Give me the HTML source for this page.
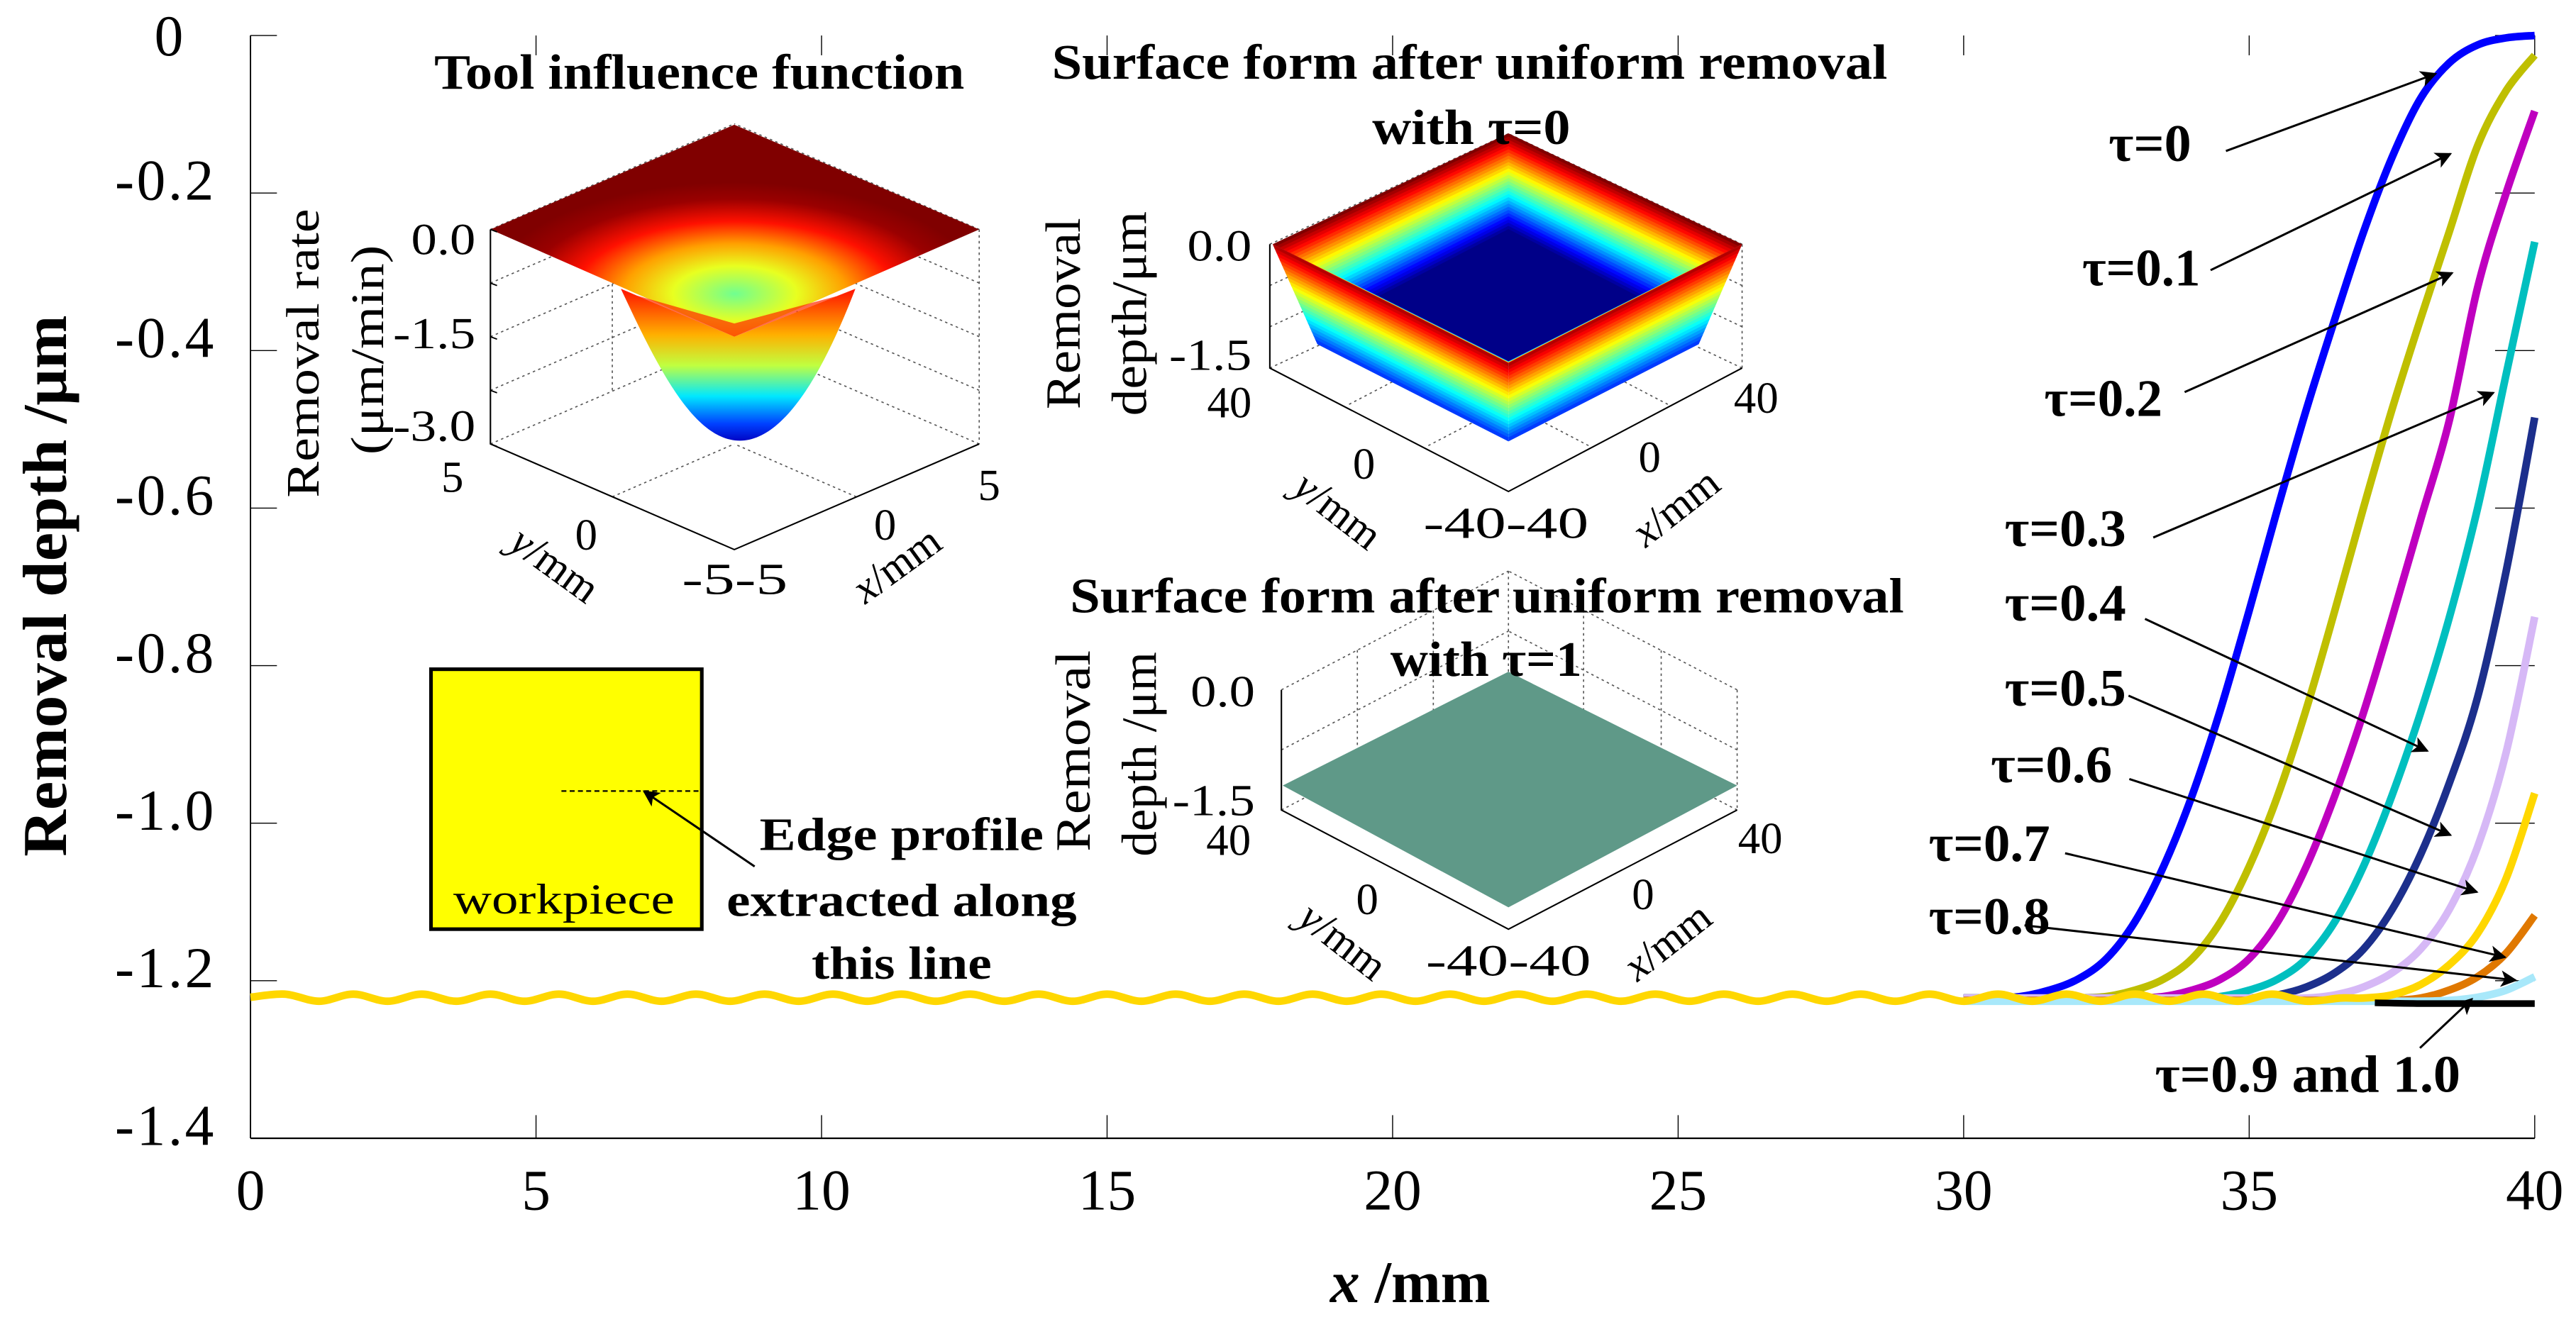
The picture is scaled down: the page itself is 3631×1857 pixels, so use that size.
<!DOCTYPE html>
<html><head><meta charset="utf-8"><title>Removal depth edge profiles</title>
<style>
html,body{margin:0;padding:0;background:#fff;}
svg{display:block;}
text{font-family:"Liberation Serif",serif;}
</style></head>
<body>
<svg id="chart" xmlns="http://www.w3.org/2000/svg" width="3631" height="1857" viewBox="0 0 1560 798" preserveAspectRatio="none">
<defs>
<marker id="ah2" viewBox="0 0 10 10" refX="9" refY="5" markerWidth="14" markerHeight="10" orient="auto" markerUnits="userSpaceOnUse">
<path d="M0,0 L10,5 L0,10 L2.5,5 Z" fill="#000"/></marker>
<radialGradient id="tifTop" gradientUnits="userSpaceOnUse" cx="445" cy="178" r="150" gradientTransform="translate(445 178) scale(1 0.45) translate(-445 -178)">
<stop offset="0" stop-color="#70ff90"/><stop offset="0.25" stop-color="#e8ff20"/><stop offset="0.45" stop-color="#ffa000"/><stop offset="0.65" stop-color="#ff1000"/><stop offset="0.85" stop-color="#9a0000"/><stop offset="1" stop-color="#800000"/></radialGradient>
<linearGradient id="tifBowl" gradientUnits="userSpaceOnUse" x1="0" y1="175" x2="0" y2="268">
<stop offset="0" stop-color="#ff1000"/><stop offset="0.3" stop-color="#ffb000"/><stop offset="0.5" stop-color="#c0ff40"/><stop offset="0.7" stop-color="#00e8ff"/><stop offset="0.88" stop-color="#0040ff"/><stop offset="1" stop-color="#0000c0"/></linearGradient>
</defs>
<g id="inset-layer"></g>
<g id="main-layer"></g>
</svg>
<script>
// ---- data ----
const xTicks = [0, 5, 10, 15, 20, 25, 30, 35, 40];
const xTickLabels = ['0', '5', '10', '15', '20', '25', '30', '35', '40'];
const yTicks = [0, -0.2, -0.4, -0.6, -0.8, -1.0, -1.2, -1.4];
const yTickLabels = ['0', '-0.2', '-0.4', '-0.6', '-0.8', '-1.0', '-1.2', '-1.4'];
const gridX = [30,30.5,31,31.5,32,32.5,33,33.5,34,34.5,35,35.5,36,36.5,37,37.5,38,38.5,39,39.5,40];
const tau0Y  = [-1.222,-1.222,-1.220,-1.212,-1.198,-1.172,-1.125,-1.055,-0.965,-0.855,-0.73,-0.60,-0.475,-0.36,-0.25,-0.155,-0.08,-0.035,-0.012,-0.003,0];
const tau01Y = [-1.222,-1.222,-1.222,-1.222,-1.222,-1.220,-1.212,-1.198,-1.172,-1.125,-1.055,-0.965,-0.855,-0.73,-0.60,-0.475,-0.36,-0.25,-0.14,-0.07,-0.025];
const tau02Y = [-1.222,-1.222,-1.222,-1.222,-1.222,-1.222,-1.222,-1.220,-1.212,-1.198,-1.172,-1.125,-1.055,-0.965,-0.86,-0.74,-0.615,-0.49,-0.32,-0.2,-0.096];
const tau03Y = [-1.222,-1.222,-1.222,-1.222,-1.222,-1.222,-1.222,-1.222,-1.222,-1.220,-1.212,-1.198,-1.172,-1.125,-1.055,-0.965,-0.86,-0.74,-0.60,-0.43,-0.262];
const tau04Y = [-1.222,-1.222,-1.222,-1.222,-1.222,-1.222,-1.222,-1.222,-1.222,-1.222,-1.222,-1.218,-1.208,-1.19,-1.16,-1.11,-1.04,-0.95,-0.84,-0.68,-0.485];
const tau05Y = [-1.222,-1.222,-1.222,-1.222,-1.222,-1.222,-1.222,-1.222,-1.222,-1.222,-1.222,-1.222,-1.222,-1.218,-1.208,-1.19,-1.16,-1.11,-1.03,-0.91,-0.738];
const tau07Y = [-1.225,-1.225,-1.225,-1.225,-1.225,-1.225,-1.225,-1.225,-1.225,-1.225,-1.225,-1.225,-1.225,-1.225,-1.225,-1.225,-1.222,-1.212,-1.195,-1.165,-1.117];
const tau08Y = [-1.226,-1.226,-1.226,-1.226,-1.226,-1.226,-1.226,-1.226,-1.226,-1.226,-1.226,-1.226,-1.226,-1.226,-1.226,-1.226,-1.226,-1.225,-1.221,-1.212,-1.195];
const tau06X = [0,0.6,1.2,1.8,2.4,3,3.6,4.2,4.8,5.4,6,6.6,7.2,7.8,8.4,9,9.6,10.2,10.8,11.4,12,12.6,13.2,13.8,14.4,15,15.6,16.2,16.8,17.4,18,18.6,19.2,19.8,20.4,21,21.6,22.2,22.8,23.4,24,24.6,25.2,25.8,26.4,27,27.6,28.2,28.8,29.4,30,30.6,31.2,31.8,32.4,33,33.6,34.2,34.8,35.4,36,36.6,37,37.5,38,38.5,39,39.5,40];
const tau06Y = [-1.221,-1.217,-1.226,-1.217,-1.226,-1.217,-1.226,-1.217,-1.226,-1.217,-1.226,-1.217,-1.226,-1.217,-1.226,-1.217,-1.226,-1.217,-1.226,-1.217,-1.226,-1.217,-1.226,-1.217,-1.226,-1.217,-1.226,-1.217,-1.226,-1.217,-1.226,-1.217,-1.226,-1.217,-1.226,-1.217,-1.226,-1.217,-1.226,-1.217,-1.226,-1.217,-1.226,-1.217,-1.226,-1.217,-1.226,-1.217,-1.226,-1.217,-1.226,-1.217,-1.226,-1.217,-1.226,-1.217,-1.226,-1.217,-1.226,-1.217,-1.226,-1.222,-1.222,-1.218,-1.205,-1.18,-1.14,-1.07,-0.962];
const tau09X = [37.2,38,39,40];
const tau09Y = [-1.228,-1.229,-1.229,-1.229];
const seriesNames = ['tau-0','tau-0.1','tau-0.2','tau-0.3','tau-0.4','tau-0.5','tau-0.6','tau-0.7','tau-0.8','tau-0.9-and-1.0'];
const seriesColors = ['#0000ff','#bfbf00','#bf00bf','#00bfbf','#1c2f8c','#d6b8f6','#ffd700','#e07800','#a8e8fa','#000000'];
const labelTexts = ['τ=0','τ=0.1','τ=0.2','τ=0.3','τ=0.4','τ=0.5','τ=0.6','τ=0.7','τ=0.8','τ=0.9 and 1.0'];

// ---- axes ----
const X0 = 151.7, X1 = 1535, Y0 = 21.5, Y1 = 689.7;
function sx(v){ return X0 + (v - 0) * (X1 - X0) / 40; }
function sy(v){ return Y0 + (0 - v) * (Y1 - Y0) / 1.4; }

const NS = 'http://www.w3.org/2000/svg';
const main = document.getElementById('main-layer');
const ins = document.getElementById('inset-layer');
function el(tag, attrs, parent){
  const e = document.createElementNS(NS, tag);
  for (const k in attrs) e.setAttribute(k, attrs[k]);
  (parent || main).appendChild(e);
  return e;
}
function txt(s, attrs, parent){ const t = el('text', attrs, parent); t.textContent = s; return t; }
function smoothPath(pts){
  let d = 'M' + pts[0][0].toFixed(2) + ',' + pts[0][1].toFixed(2);
  for (let i = 0; i < pts.length - 1; i++){
    const p0 = pts[Math.max(i-1,0)], p1 = pts[i], p2 = pts[i+1], p3 = pts[Math.min(i+2, pts.length-1)];
    const c1 = [p1[0] + (p2[0]-p0[0])/6, p1[1] + (p2[1]-p0[1])/6];
    const c2 = [p2[0] - (p3[0]-p1[0])/6, p2[1] - (p3[1]-p1[1])/6];
    d += ' C' + c1[0].toFixed(2)+','+c1[1].toFixed(2)+' '+c2[0].toFixed(2)+','+c2[1].toFixed(2)+' '+p2[0].toFixed(2)+','+p2[1].toFixed(2);
  }
  return d;
}
function jet(v){
  const c = x => Math.round(255 * Math.max(0, Math.min(1, x)));
  return 'rgb(' + c(1.5 - Math.abs(4*v-3)) + ',' + c(1.5 - Math.abs(4*v-2)) + ',' + c(1.5 - Math.abs(4*v-1)) + ')';
}
function lerp(a, b, t){ return [a[0] + (b[0]-a[0])*t, a[1] + (b[1]-a[1])*t]; }
function poly(pts){ return pts.map(p => p[0].toFixed(2)+','+p[1].toFixed(2)).join(' '); }

// spines
let s;
s = el('line', {x1:X0, y1:Y0, x2:X0, y2:Y1, stroke:'#000', 'stroke-width':0.8});


s = el('line', {x1:X0, y1:Y1, x2:X1, y2:Y1, stroke:'#000', 'stroke-width':1});



xTicks.forEach((v, i) => {
  const t1 = el('line', {x1:sx(v), y1:Y1, x2:sx(v), y2:Y1-14, stroke:'#000', 'stroke-width':0.6});
  
  
  const t2 = el('line', {x1:sx(v), y1:Y0, x2:sx(v), y2:Y0+12, stroke:'#000', 'stroke-width':0.6});
  
  
  const lb = txt(xTickLabels[i], {x:sx(v), y:733, 'text-anchor':'middle', 'font-size':35});
  
  
});
yTicks.forEach((v, i) => {
  const t1 = el('line', {x1:X0, y1:sy(v), x2:X0+16, y2:sy(v), stroke:'#000', 'stroke-width':0.6});
  
  
  const t2 = el('line', {x1:X1, y1:sy(v), x2:X1-24, y2:sy(v), stroke:'#000', 'stroke-width':0.6});
  
  
  const isZero = yTickLabels[i] === '0';
  const lb = txt(yTickLabels[i], {x:isZero ? 103 : 131, y:sy(v) + (isZero ? 12 : 4), 'text-anchor':isZero ? 'middle' : 'end', 'font-size':35, 'letter-spacing':1.5});
  
  
});
s = txt('Removal depth /μm', {transform:'translate(40,355) rotate(-90)', 'text-anchor':'middle', 'font-size':38, 'font-weight':'bold', textLength:328, lengthAdjust:'spacingAndGlyphs'});


s = el('text', {x:854, y:789, 'text-anchor':'middle', 'font-size':36, 'font-weight':'bold'});
s.innerHTML = '<tspan font-style="italic">x</tspan> /mm';



// ---- inset 1: tool influence function ----
const g1 = el('g', {}, ins);


const A1 = {L:[297,139], R:[593,139], T:[444.7,75.6], F:[444.7,204], fl:[297,269], ff:[444.7,333], fr:[593,269]};
for (let k = 0; k < 5; k++){
  const y = 139 + k * 32.5;
  el('line', {x1:297, y1:y, x2:444.7, y2:y-64, stroke:'#555', 'stroke-width':0.7, 'stroke-dasharray':'1.5,2'}, g1);
  el('line', {x1:593, y1:y, x2:444.7, y2:y-64, stroke:'#555', 'stroke-width':0.7, 'stroke-dasharray':'1.5,2'}, g1);
}
[[370.8,301],[518.6,301]].forEach(p => {
  el('line', {x1:p[0], y1:p[1], x2:p[0]+ (p[0] < 444 ? 73.9 : -73.9), y2:p[1]-32, stroke:'#555', 'stroke-width':0.7, 'stroke-dasharray':'1.5,2'}, g1);
});
el('line', {x1:593, y1:139, x2:593, y2:269, stroke:'#555', 'stroke-width':0.7, 'stroke-dasharray':'1.5,2'}, g1);
el('line', {x1:370.8, y1:172, x2:370.8, y2:237, stroke:'#555', 'stroke-width':0.7, 'stroke-dasharray':'1.5,2'}, g1);
el('polygon', {points:poly([A1.T, A1.R, A1.F, A1.L]), fill:'url(#tifTop)'}, g1);
el('path', {d:'M376,175 C398,222 420,267 448,267 C476,267 500,222 518,175 L444.7,204 Z', fill:'url(#tifBowl)'}, g1);
el('polygon', {points:poly([[376,175],[444.7,204],[518,175],[512,178],[444.7,196],[382,178]]), fill:'#ff2a00', opacity:0.7}, g1);
el('polyline', {points:poly([A1.L, A1.fl, A1.ff, A1.fr]), fill:'none', stroke:'#000', 'stroke-width':0.9}, g1);
[[297,139],[297,171.5],[297,204],[297,236.5],[297,269]].forEach(p => el('line', {x1:p[0], y1:p[1], x2:p[0]+4, y2:p[1]+1.5, stroke:'#000', 'stroke-width':0.8}, g1));
s = txt('Tool influence function', {x:263, y:53.7, 'font-size':30, 'font-weight':'bold', textLength:321, lengthAdjust:'spacingAndGlyphs'}, g1);


[['0.0',154],['-1.5',211],['-3.0',267]].forEach(a => txt(a[0], {x:288, y:a[1], 'text-anchor':'end', 'font-size':27, textLength:a[0].length > 3 ? 50 : 39, lengthAdjust:'spacingAndGlyphs'}, g1));
txt('5', {x:274, y:298, 'text-anchor':'middle', 'font-size':27}, g1);
txt('0', {x:355, y:333, 'text-anchor':'middle', 'font-size':27}, g1);
txt('-5-5', {x:445, y:360, 'text-anchor':'middle', 'font-size':27, textLength:64, lengthAdjust:'spacingAndGlyphs'}, g1);
txt('5', {x:599, y:303, 'text-anchor':'middle', 'font-size':27}, g1);
txt('0', {x:536, y:327, 'text-anchor':'middle', 'font-size':27}, g1);
s = el('text', {transform:'translate(331,349) rotate(36)', 'text-anchor':'middle', 'font-size':26}, g1);
s.innerHTML = '<tspan font-style="italic">y</tspan>/mm';
s = el('text', {transform:'translate(548,349) rotate(-36)', 'text-anchor':'middle', 'font-size':26}, g1);
s.innerHTML = '<tspan font-style="italic">x</tspan>/mm';
txt('Removal rate', {transform:'translate(193,214) rotate(-90)', 'text-anchor':'middle', 'font-size':28, textLength:175, lengthAdjust:'spacingAndGlyphs'}, g1);
txt('(μm/min)', {transform:'translate(232,212) rotate(-90)', 'text-anchor':'middle', 'font-size':28, textLength:127, lengthAdjust:'spacingAndGlyphs'}, g1);

// ---- inset 2: tau = 0 surface ----
const g2 = el('g', {}, ins);


const O2 = {T:[913.5,80.8], L:[770.7,148], R:[1055,148], B:[913.5,220]};
const I2 = {T:[913.5,138.8], L:[835,179.4], R:[991.6,179.4], B:[913.5,218.7]};
for (let k = 0; k < 4; k++){
  const y = 148 + k * 25;
  el('line', {x1:769, y1:y, x2:913.5, y2:y-67, stroke:'#555', 'stroke-width':0.7, 'stroke-dasharray':'1.5,2'}, g2);
  el('line', {x1:1055, y1:y, x2:913.5, y2:y-67, stroke:'#555', 'stroke-width':0.7, 'stroke-dasharray':'1.5,2'}, g2);
}
el('line', {x1:1055, y1:148, x2:1055, y2:223, stroke:'#555', 'stroke-width':0.7, 'stroke-dasharray':'1.5,2'}, g2);
[[817,245],[865,270],[1010,245],[962,270]].forEach(p => el('line', {x1:p[0], y1:p[1], x2:p[0] + (p[0] < 913 ? 96 : -96), y2:p[1]-50, stroke:'#555', 'stroke-width':0.7, 'stroke-dasharray':'1.5,2'}, g2));
const NR = 30;
for (let k = 0; k < NR; k++){
  const t = k / NR;
  el('polygon', {points:poly([lerp(O2.T,I2.T,t), lerp(O2.R,I2.R,t), lerp(O2.B,I2.B,t), lerp(O2.L,I2.L,t)]), fill:jet(1 - t)}, g2);
}
el('polygon', {points:poly([I2.T, I2.R, I2.B, I2.L]), fill:'#000088'}, g2);
const walls = [[[770.7,148],[913.5,220],[913.5,267],[797.5,208]], [[1055,148],[913.5,220],[913.5,267],[1029,208]]];
walls.forEach(w => {
  const NW = 24;
  for (let k = 0; k < NW; k++){
    const a = k / NW, b = (k + 1) / NW;
    el('polygon', {points:poly([lerp(w[0],w[3],a), lerp(w[1],w[2],a), lerp(w[1],w[2],b+0.01), lerp(w[0],w[3],b+0.01)]), fill:jet(0.95 - a * 0.8)}, g2);
  }
});
el('polyline', {points:poly([[769,148],[769,223],[913.5,297.8],[1055,223]]), fill:'none', stroke:'#000', 'stroke-width':0.9}, g2);
txt('Surface form after uniform removal', {x:637, y:47.8, 'font-size':30, 'font-weight':'bold', textLength:506, lengthAdjust:'spacingAndGlyphs'}, g2);
txt('with τ=0', {x:831, y:87.3, 'font-size':30, 'font-weight':'bold', textLength:120, lengthAdjust:'spacingAndGlyphs'}, g2);
txt('0.0', {x:758, y:158, 'text-anchor':'end', 'font-size':27, textLength:39, lengthAdjust:'spacingAndGlyphs'}, g2);
txt('-1.5', {x:758, y:224, 'text-anchor':'end', 'font-size':27, textLength:50, lengthAdjust:'spacingAndGlyphs'}, g2);
txt('40', {x:758, y:253, 'text-anchor':'end', 'font-size':27}, g2);
txt('0', {x:826, y:290, 'text-anchor':'middle', 'font-size':27}, g2);
txt('-40-40', {x:912, y:326, 'text-anchor':'middle', 'font-size':27, textLength:100, lengthAdjust:'spacingAndGlyphs'}, g2);
txt('40', {x:1050, y:250, 'font-size':27}, g2);
txt('0', {x:999, y:286, 'text-anchor':'middle', 'font-size':27}, g2);
s = el('text', {transform:'translate(805,316) rotate(38)', 'text-anchor':'middle', 'font-size':26}, g2);
s.innerHTML = '<tspan font-style="italic">y</tspan>/mm';
s = el('text', {transform:'translate(1020,314) rotate(-38)', 'text-anchor':'middle', 'font-size':26}, g2);
s.innerHTML = '<tspan font-style="italic">x</tspan>/mm';
txt('Removal', {transform:'translate(654,190) rotate(-90)', 'text-anchor':'middle', 'font-size':30, textLength:116, lengthAdjust:'spacingAndGlyphs'}, g2);
txt('depth/μm', {transform:'translate(694,190) rotate(-90)', 'text-anchor':'middle', 'font-size':30, textLength:124, lengthAdjust:'spacingAndGlyphs'}, g2);

// ---- inset 3: tau = 1 surface ----
const g3 = el('g', {}, ins);


const dash = {stroke:'#555', 'stroke-width':0.7, 'stroke-dasharray':'1.5,2'};
for (let k = 0; k < 3; k++){
  const y = 418 + k * 36.4;
  el('line', Object.assign({x1:776, y1:y, x2:913.5, y2:y-72}, dash), g3);
  el('line', Object.assign({x1:1052, y1:y, x2:913.5, y2:y-72}, dash), g3);
}
el('line', Object.assign({x1:913.5, y1:346, x2:913.5, y2:418.8}, dash), g3);
el('line', Object.assign({x1:1052, y1:418, x2:1052, y2:490.8}, dash), g3);
[822,868,959,1006].forEach(x => {
  const yTop = x < 913.5 ? 418 - (x-776)*72/137.5 : 418 - (1052-x)*72/138.5;
  el('line', Object.assign({x1:x, y1:yTop, x2:x, y2:yTop+72.8}, dash), g3);
});
el('polygon', {points:poly([[913.5,407],[1052,476],[913.5,549.8],[776.8,476]]), fill:'#5f9988'}, g3);
el('polyline', {points:poly([[776,418],[776,490.8],[913.5,563],[1052,490.8]]), fill:'none', stroke:'#000', 'stroke-width':0.9}, g3);
txt('Surface form after uniform removal', {x:648, y:371, 'font-size':30, 'font-weight':'bold', textLength:505, lengthAdjust:'spacingAndGlyphs'}, g3);
txt('with τ=1', {x:842, y:409.6, 'font-size':30, 'font-weight':'bold', textLength:116, lengthAdjust:'spacingAndGlyphs'}, g3);
txt('0.0', {x:760, y:428, 'text-anchor':'end', 'font-size':27, textLength:39, lengthAdjust:'spacingAndGlyphs'}, g3);
txt('-1.5', {x:760, y:494, 'text-anchor':'end', 'font-size':27, textLength:50, lengthAdjust:'spacingAndGlyphs'}, g3);
txt('40', {x:744, y:518, 'text-anchor':'middle', 'font-size':27}, g3);
txt('0', {x:828, y:554, 'text-anchor':'middle', 'font-size':27}, g3);
txt('-40-40', {x:913.5, y:591, 'text-anchor':'middle', 'font-size':27, textLength:100, lengthAdjust:'spacingAndGlyphs'}, g3);
txt('40', {x:1066, y:517, 'text-anchor':'middle', 'font-size':27}, g3);
txt('0', {x:995, y:551, 'text-anchor':'middle', 'font-size':27}, g3);
s = el('text', {transform:'translate(808,577) rotate(38)', 'text-anchor':'middle', 'font-size':26}, g3);
s.innerHTML = '<tspan font-style="italic">y</tspan>/mm';
s = el('text', {transform:'translate(1015,577) rotate(-38)', 'text-anchor':'middle', 'font-size':26}, g3);
s.innerHTML = '<tspan font-style="italic">x</tspan>/mm';
txt('Removal', {transform:'translate(660,455) rotate(-90)', 'text-anchor':'middle', 'font-size':30, textLength:122, lengthAdjust:'spacingAndGlyphs'}, g3);
txt('depth /μm', {transform:'translate(700,457) rotate(-90)', 'text-anchor':'middle', 'font-size':30, textLength:124, lengthAdjust:'spacingAndGlyphs'}, g3);

// ---- workpiece schematic ----
const g4 = el('g', {}, ins);


el('rect', {x:261, y:405.5, width:164, height:157.5, fill:'#ffff00', stroke:'#000', 'stroke-width':2.2}, g4);
el('line', {x1:340, y1:479.3, x2:424, y2:479.3, stroke:'#000', 'stroke-width':1, 'stroke-dasharray':'3,2'}, g4);
txt('workpiece', {x:274.5, y:553.5, 'font-size':26, textLength:134, lengthAdjust:'spacingAndGlyphs'}, g4);
el('line', {x1:457, y1:525, x2:390, y2:479.5, stroke:'#000', 'stroke-width':1.3, 'marker-end':'url(#ah2)'}, g4);
txt('Edge profile', {x:546, y:515, 'text-anchor':'middle', 'font-size':28, 'font-weight':'bold', textLength:172, lengthAdjust:'spacingAndGlyphs'}, g4);
txt('extracted along', {x:546, y:555, 'text-anchor':'middle', 'font-size':28, 'font-weight':'bold', textLength:212, lengthAdjust:'spacingAndGlyphs'}, g4);
txt('this line', {x:546, y:593, 'text-anchor':'middle', 'font-size':28, 'font-weight':'bold', textLength:109, lengthAdjust:'spacingAndGlyphs'}, g4);

// ---- series ----
const seriesX = [gridX, gridX, gridX, gridX, gridX, gridX, tau06X, gridX, gridX, tau09X];
const seriesY = [tau0Y, tau01Y, tau02Y, tau03Y, tau04Y, tau05Y, tau06Y, tau07Y, tau08Y, tau09Y];
const drawOrder = [0,1,2,3,4,5,7,8,6,9];
drawOrder.forEach(i => {
  const pts = seriesX[i].map((x, j) => [sx(x), sy(seriesY[i][j])]);
  const p = el('path', {d:smoothPath(pts), fill:'none', stroke:seriesColors[i], 'stroke-width':i === 9 ? 4 : 4.6, 'stroke-linejoin':'round'});
  
  
});

// ---- curve labels + arrows ----
const labelPos = [[1277,97.5],[1261,173],[1238,252],[1214,331],[1214,376],[1214,427.5],[1205.6,474],[1168,521.6],[1168,566],[1305,661.6]];
const labelLen = [50,71.5,71.5,73.5,73.5,73.5,73.5,73.5,73.5,185];
const arrowFrom = [[1348,91.5],[1338.7,163.7],[1323,237.6],[1304,325.7],[1299,375],[1289,421.5],[1289.5,472],[1250.6,517],[1226,560.7],[1465.5,635]];
const arrowTo = [[1475,44.7],[1484,93.2],[1485,165.4],[1510,238],[1470,455],[1484,506],[1500,540.5],[1517,580],[1523.5,594],[1497,605.3]];
labelTexts.forEach((t, i) => {
  const lb = txt(t, {x:labelPos[i][0], y:labelPos[i][1], 'font-size':32, 'font-weight':'bold', textLength:labelLen[i], lengthAdjust:'spacingAndGlyphs'});
  
  
  const ar = el('line', {x1:arrowFrom[i][0], y1:arrowFrom[i][1], x2:arrowTo[i][0], y2:arrowTo[i][1], stroke:'#000', 'stroke-width':1.3, 'marker-end':'url(#ah2)'});
  
  
});
</script>
</body></html>
